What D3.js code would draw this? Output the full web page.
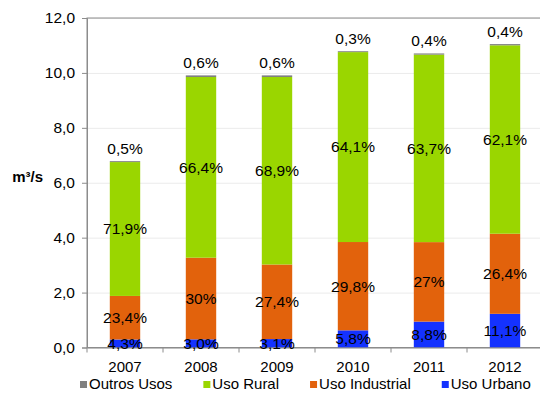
<!DOCTYPE html>
<html>
<head>
<meta charset="utf-8">
<script src="https://cdn.jsdelivr.net/npm/d3@7"></script>
<style>
   body { margin: 0; background: #fff; }
   svg { font-family: "Liberation Sans", Arial, sans-serif; }
</style>
</head>
<body>
<svg class="usos" width="540" height="394"></svg>
<script>
// DATA
var years = ["2007", "2008", "2009", "2010", "2011", "2012"];
var totals = [6.78, 9.91, 9.91, 10.79, 10.72, 11.05];
// shares of each bar, as printed on the chart
var usoUrbano = ["4,3", "3,0", "3,1", "5,8", "8,8", "11,1"];
var usoIndustrial = ["23,4", "30", "27,4", "29,8", "27", "26,4"];
var usoRural = ["71,9", "66,4", "68,9", "64,1", "63,7", "62,1"];
var outrosUsos = ["0,5", "0,6", "0,6", "0,3", "0,4", "0,4"];
var yTicks = [0, 2, 4, 6, 8, 10, 12];

var seriesKeys = ["urbano", "industrial", "rural", "outros"];
var seriesNames = {urbano: "Uso Urbano", industrial: "Uso Industrial", rural: "Uso Rural", outros: "Outros Usos"};
var seriesColors = {urbano: "#1432ff", industrial: "#e2620c", rural: "#9ad600", outros: "#808080"};

(function drawChart() {
   var svg = d3.select("svg.usos");

   var bounds = {left: 87, right: 543, top: 18, bottom: 347.5};

   var toNumber = function (s) {
      return +s.replace(",", ".");
   };

   // one row per year, segment values in m3/s
   var rows = years.map(function (year, i) {
      var shares = {
         urbano: usoUrbano[i],
         industrial: usoIndustrial[i],
         rural: usoRural[i],
         outros: outrosUsos[i]
      };
      var row = {year: year, shares: shares};
      seriesKeys.forEach(function (key) {
         row[key] = totals[i] * toNumber(shares[key]) / 100;
      });
      return row;
   });

   var x = d3.scaleBand()
      .domain(years)
      .range([bounds.left, bounds.right])
      .paddingInner(0.6)
      .paddingOuter(0.3);

   var y = d3.scaleLinear()
      .domain([0, 12])
      .range([bounds.bottom, bounds.top]);

   // gridlines
   svg.append("g")
      .attr("class", "grid")
      .attr("transform", "translate(" + bounds.left + ",0)")
      .call(d3.axisLeft(y).tickValues(yTicks).tickSize(-(bounds.right - bounds.left)).tickFormat(""))
      .call(function (g) {
         g.select(".domain").remove();
         g.selectAll("line").attr("stroke", "#ebebeb");
      });

   // plot frame
   svg.append("rect")
      .attr("x", bounds.left)
      .attr("y", bounds.top)
      .attr("width", bounds.right - bounds.left)
      .attr("height", bounds.bottom - bounds.top)
      .attr("fill", "none")
      .attr("stroke", "#8c8c8c");

   var stacked = d3.stack().keys(seriesKeys)(rows);

   var serie = svg.selectAll(".serie")
      .data(stacked)
      .enter().append("g")
      .attr("class", "serie")
      .attr("fill", function (d) {
         return seriesColors[d.key];
      });

   serie.selectAll("rect")
      .data(function (d) {
         return d;
      })
      .enter().append("rect")
      .attr("x", function (d) {
         return x(d.data.year);
      })
      .attr("y", function (d) {
         return y(d[1]);
      })
      .attr("height", function (d) {
         return y(d[0]) - y(d[1]);
      })
      .attr("width", x.bandwidth());

   // y axis
   svg.append("g")
      .attr("class", "axis axis--y")
      .attr("transform", "translate(" + bounds.left + ",0)")
      .call(d3.axisLeft(y).tickValues(yTicks).tickSize(5).tickPadding(7)
         .tickFormat(function (d) {
            return d.toFixed(1).replace(".", ",");
         }))
      .call(function (g) {
         g.select(".domain").attr("stroke", "#8c8c8c");
         g.selectAll("line").attr("stroke", "#8c8c8c");
         g.selectAll("text").attr("fill", "#000").style("font-size", "15.5px");
      });

   // x axis: labels centred, ticks between categories
   var xAxis = svg.append("g")
      .attr("class", "axis axis--x")
      .attr("transform", "translate(0," + bounds.bottom + ")")
      .call(d3.axisBottom(x).tickSize(0).tickPadding(14))
      .call(function (g) {
         g.select(".domain").attr("stroke", "#8c8c8c");
         g.selectAll("text").attr("fill", "#000").style("font-size", "15px");
      });

   xAxis.selectAll(".boundary")
      .data(d3.range(years.length + 1))
      .enter().append("line")
      .attr("class", "boundary")
      .attr("x1", function (i) {
         return bounds.left + i * x.step();
      })
      .attr("x2", function (i) {
         return bounds.left + i * x.step();
      })
      .attr("y1", 0)
      .attr("y2", 5)
      .attr("stroke", "#8c8c8c");

   // segment labels
   var labels = svg.append("g")
      .attr("class", "labels")
      .style("font-size", "15.5px")
      .attr("text-anchor", "middle")
      .attr("fill", "#000");

   stacked.forEach(function (layer) {
      labels.selectAll(".label-" + layer.key)
         .data(layer)
         .enter().append("text")
         .attr("class", "label-" + layer.key)
         .attr("x", function (d) {
            return x(d.data.year) + x.bandwidth() / 2;
         })
         .attr("y", function (d) {
            if (layer.key === "outros")
               return y(d[1]) - 7;
            return (y(d[0]) + y(d[1])) / 2;
         })
         .attr("dy", function () {
            return layer.key === "outros" ? "0" : "0.35em";
         })
         .text(function (d) {
            return d.data.shares[layer.key] + "%";
         });
   });

   // unit label
   svg.append("text")
      .attr("x", 43)
      .attr("y", 182)
      .attr("text-anchor", "end")
      .style("font-size", "15px")
      .style("font-weight", "bold")
      .text("m³/s");

   // legend, reverse stack order
   var legendKeys = seriesKeys.slice().reverse();
   var legend = svg.append("g")
      .attr("class", "legend")
      .style("font-size", "15px");

   var cursor = 80;
   legendKeys.forEach(function (key) {
      var item = legend.append("g")
         .attr("transform", "translate(" + cursor + ",0)");

      item.append("rect")
         .attr("x", 0)
         .attr("y", 381)
         .attr("width", 7)
         .attr("height", 7)
         .attr("fill", seriesColors[key]);

      var label = item.append("text")
         .attr("x", 9)
         .attr("y", 389)
         .attr("fill", "#000")
         .text(seriesNames[key]);

      cursor += 9 + label.node().getComputedTextLength() + 31;
   });
})();
</script>
</body>
</html>
